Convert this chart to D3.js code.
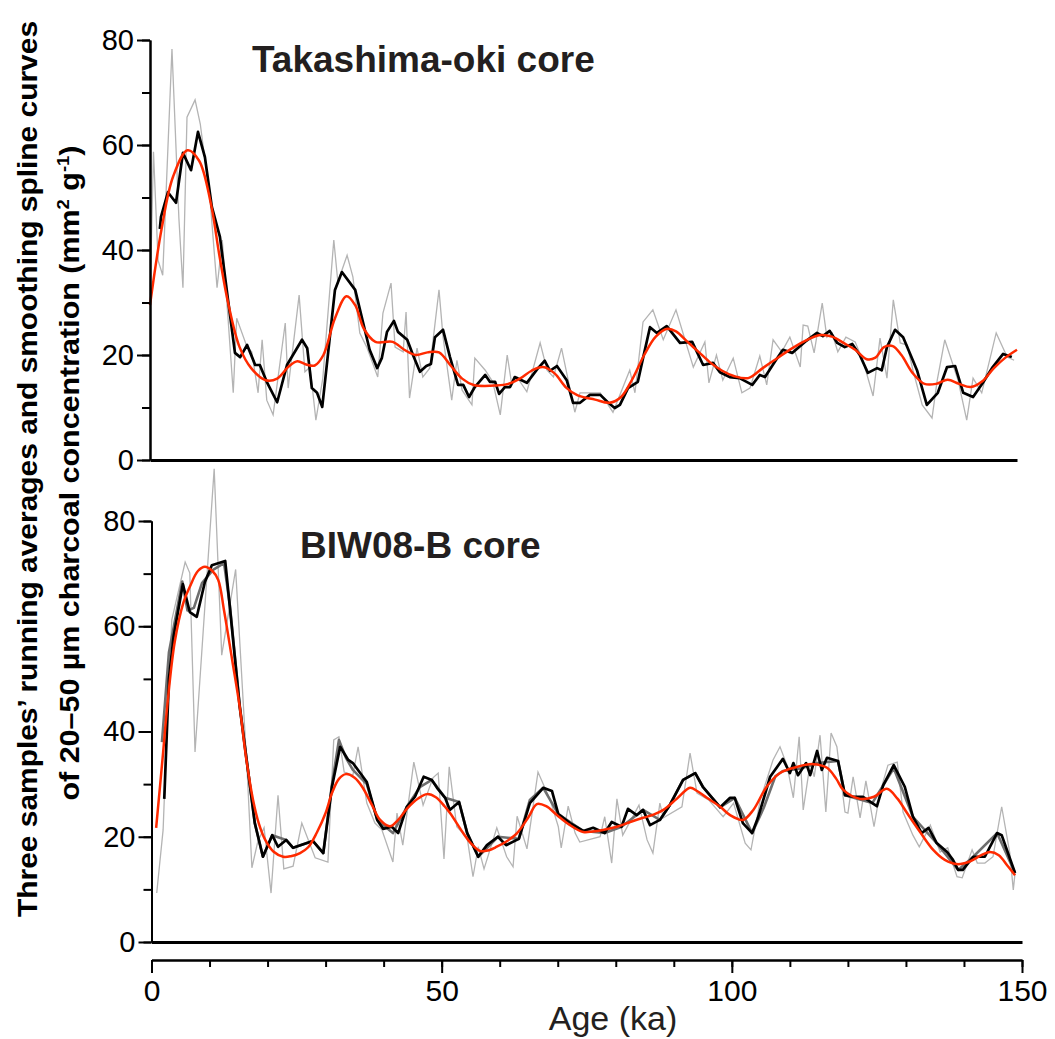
<!DOCTYPE html>
<html>
<head>
<meta charset="utf-8">
<script src="https://cdn.jsdelivr.net/npm/d3@7"></script>
<style>
  body { margin: 0; background: #fff; }
  text { font-family: "Liberation Sans", Arial, sans-serif; }
</style>
</head>
<body>
<div id="app"></div>
<script>
// ---- data: [age (ka), value (mm2 g-1)] ----
const takaRaw = [[0,30],[0.6,58.7],[1.4,38],[2.2,35.2],[3.8,78.3],[5,46],[5.7,32.8],[6.4,65.3],[7.8,68.6],[8.7,64],
  [10.4,49.5],[11.6,32.8],[12.5,41.9],[13.5,27],[14.4,12.8],[15,27],[16.8,21.5],[17.6,20.6],[18.7,12.8],[19.4,22.9],
  [20.2,11.4],[21.3,8.6],[23.4,26.1],[23.9,13.7],[25.8,31.4],[26.8,16.8],[27.7,17.7],[28.7,7.6],[29.9,15.6],[31.8,41.9],
  [32.5,33.9],[34.1,39],[35.1,34.9],[36.3,24.2],[37.5,21.5],[39.4,15.8],[40.3,28],[41.7,33.7],[42.4,21.5],[43.8,20.6],
  [44.3,28.2],[44.9,11.8],[46.2,21.3],[47.2,15.8],[48.4,17.5],[50,32.4],[50.7,23.4],[52.2,11.4],[53.1,19],[54,13.3],
  [55.7,10.5],[56.2,19.4],[58,17.1],[59.3,14.9],[60.6,8.6],[61.8,20],[62.6,14.3],[63.5,15.8],[65.2,13],[67.5,22.3],
  [68.7,17.1],[69.8,15.8],[71.2,21.3],[73.5,9.1],[74.4,12.8],[77.9,12.8],[80.1,9.1],[83,17.1],[83.9,12.8],[85.3,26.3],
  [87,28.6],[88.8,22.9],[91,28.6],[94,17.7],[96,22.5],[96.7,14.7],[98,20],[99.1,15.2],[100.9,19.4],[102.4,12.8],
  [103.8,13.7],[105.5,19.8],[106.7,14.3],[107.8,22.9],[109.3,20.6],[110.7,23.4],[112.5,17.7],[113,25.7],[113.8,25.5],[114.9,20.4],
  [116.3,29.9],[117.1,23.4],[118,24.2],[119,20.6],[120.4,23.4],[122,22.5],[123.4,18.7],[125.1,12.2],[126.3,23.2],[127.5,15.6],
  [128.6,30.5],[129.8,22.3],[131,21.9],[132,17.1],[133.6,10.5],[135.3,8],[136.2,15.2],[137.5,22.9],[139.8,15.2],[141.3,7.6],
  [142.4,15.6],[143.9,12.8],[146.4,24.2],[148.3,19.6],[149.5,19]];

const takaAvg = [[1.7,44],[1.9,46.3],[3.1,51],[4.5,49],[5.7,58.5],[7.1,55.2],[8.3,62.5],[9.5,57.7],[10.7,48.2],[12.1,42.5],
  [13.5,30.5],[14.7,20.4],[15.6,19.6],[16.8,21.9],[18.2,18.1],[19,18.1],[20.2,14.9],[22,11],[23.7,18.1],[26.3,22.9],
  [27.2,21.3],[28,13.7],[28.9,12.8],[29.8,10.1],[32,32.4],[33.2,35.8],[35.5,32.4],[38,21],[39.3,17.5],[40.1,19.4],
  [41,24.4],[42.2,26.5],[42.9,24.4],[44.5,22.9],[45.5,20],[46.7,16.8],[47.8,17.9],[48.6,18.3],[49.3,23.4],[50.7,24.8],
  [51.9,19.6],[53.3,14.3],[54.2,14.3],[55.2,12],[56.2,13.9],[58,16.2],[58.8,14.9],[59.7,14.9],[60.4,12.6],[61.4,13.9],
  [62.3,13.9],[63.1,15.8],[65.2,14.7],[67,17.3],[68.3,18.9],[69.2,17],[70.4,17.9],[72.1,15.2],[73.2,10.9],[74.4,10.9],
  [76.1,12.4],[77.9,12.4],[79.2,11],[80.4,9.9],[81.3,10.5],[82.7,13.7],[84.4,14.9],[85.3,19.4],[86.5,25.3],[87.7,24.2],
  [89.4,25.5],[91.7,22.3],[93.8,22.5],[95.7,18.1],[97.4,18.5],[98.6,16.7],[100.3,15.8],[102,15.6],[104.2,14.3],[105.5,16.2],
  [106.4,15.8],[108.1,18.7],[109.5,21],[111.1,20.4],[113.3,22.5],[115.4,24.2],[116.4,23.6],[117.6,24.6],[118.9,22.3],[120.2,21.5],
  [121.5,22.1],[122.8,20],[124.2,16.6],[125.8,17.5],[126.6,17.1],[127.5,21.5],[128.9,24.8],[130.3,23.4],[132.7,17.1],[134.4,10.5],
  [136.3,12.8],[137.9,17.7],[139.3,17.9],[140.7,12.8],[142.4,12],[144.1,14.7],[145.8,17.7],[147.6,20.2],[149.1,19.6]];

const takaSpline = [[0,29.5],[2,44],[4,54],[6.5,59],[8.5,57],[10.5,49],[12,39],[13.5,30],[15.5,21.5],[17.5,17.5],
  [20,15.2],[22,15.5],[24,17.8],[25.5,18.8],[27,18.2],[28.5,18],[30,20],[32,27],[34,31.2],[35.5,29.5],
  [37,25],[39,22.5],[42,22.5],[44,21],[46,20],[48,20.5],[50,20.5],[52,18],[54,15.5],[56,14.3],
  [60,14.2],[62,14.5],[64,15.5],[66,17],[68,17.7],[70,16.5],[72,13.8],[74,12.3],[77,11.5],[79.5,10.9],
  [81.5,12],[83.5,15.5],[85.5,20],[87.5,23.5],[89.5,25],[91,24.5],[93,22.5],[95,20.5],[97,18.5],[99,17],
  [101,16],[103.5,15.6],[106,17.5],[108,19],[110,20.5],[113,22.5],[116,23.8],[118,23.5],[120,22.3],[122,21],
  [124,19.2],[125.5,19.5],[127,21.5],[128.5,21.7],[130,20],[132,16.5],[134,14.5],[136,14.5],[138,15.3],[140,14.5],
  [142,13.9],[144,15],[146,17.5],[148,19.5],[150,21]];

const biwRaw = [[0.9,9.3],[2,21.3],[3,50],[3.5,61.2],[4.5,66],[5.8,72.2],[6.6,70.1],[7.5,36.1],[10.8,89.9],[12.1,54.5],
  [14.5,70.8],[16.5,32.1],[17.3,14.1],[18.3,19],[19.4,21.7],[20.6,9.3],[21.8,27.9],[22.8,13.9],[24.4,14.4],[25.9,22.6],
  [28.2,16],[30.4,15.2],[31.4,38.4],[32.3,39],[33.2,32.3],[34.7,31.7],[35.6,37.1],[37.1,26.4],[38.5,22.6],[39.7,21.3],
  [41.6,15.2],[42.3,24.5],[43.3,18.4],[45.2,34.2],[46.8,26],[48.5,31.2],[49.4,32.1],[50.4,15.8],[51.3,33.3],[52.6,21.9],
  [54.4,19.8],[55.4,12.4],[56.3,18.1],[57.3,13.9],[59.5,21.7],[61.2,16.2],[62.3,14.3],[63,23.9],[64.7,17.7],[66.6,32.3],
  [68.7,27],[70.1,21.9],[70.6,17.9],[71.8,25.8],[73,20.7],[73.8,19],[77.3,20],[78.1,23.8],[79.3,15],[80.2,27.2],
  [81.2,20.3],[84,26],[85.4,19.4],[86.4,16.9],[87.6,26.4],[88.2,23.6],[91.4,25.7],[92.8,35.9],[94,28.3],[96,27],
  [97.2,25.5],[98.5,23.8],[100.3,26.4],[102.3,18.8],[103.3,17.5],[104.9,27],[107.1,34.6],[108.3,37.1],[109.5,33.6],[110.6,27.4],
  [111.6,39],[112.3,25.1],[113.5,34],[114.2,31.4],[115.2,39.3],[116.2,24.7],[117.1,39.7],[118.1,37.1],[119.5,24.7],[120,24.5],
  [120.9,31.4],[122.1,23.6],[123.1,30.6],[124.5,21.9],[125.5,28.3],[126.9,33.6],[128.5,34.2],[129.5,24.7],[131.2,20.3],[132.3,18.1],
  [134.2,22.2],[135.9,17.1],[137.2,17.9],[138.8,12.4],[139.7,12.2],[141.4,17.5],[142.3,15],[143.6,15],[145,16.2],[146.5,25.7],
  [147.9,16.9],[148.5,9.9],[148.8,13.1]];

const biwAvg2 = [[1.8,38],[3,55],[4.2,62],[5.3,68.5],[6.2,63],[7.3,63.5],[8.7,68.2],[10.6,70.7],[12.5,72],[13.5,64],
  [14.4,54],[15.2,45],[17.8,22.6],[19.2,16.2],[20.8,20.3],[23.2,19.4],[24.4,17.9],[27.8,19.2],[29.6,16.9],[31.1,30],
  [32.3,38.4],[33.5,35],[34.7,32.7],[37.1,30],[38.9,23.2],[41.6,20.7],[44,25.7],[46.3,29.5],[48.3,30.8],[50.6,27.4],
  [53,26.6],[54.4,20.7],[56.3,16.2],[59.7,20],[63.3,19.6],[65.2,27],[67.5,29.3],[70.1,24.3],[74.4,21.1],[78.1,20.7],
  [81,21.9],[84.7,25.1],[87.6,23.2],[89.3,26],[91.6,30.8],[93.7,32.1],[95,29.5],[98,25.6],[100.5,27.4],[103.5,20.7],
  [105.5,25.5],[107.5,31.5],[108.8,32.5],[112,33],[114.7,34],[118.3,34.4],[119.5,27.9],[124.2,26.4],[126.1,29.8],[127.9,33],
  [131.2,23.8],[135.3,18.8],[139,13.7],[141.6,16.2],[145.7,20.7],[148.8,13.1]];

const biwAvg = [[2.2,27.2],[3,50],[3.8,58],[4.6,63],[5.4,68],[6.6,62.7],[7.8,61.8],[9.2,68.4],[10.4,71.6],[12.7,72.4],
  [13.5,63.7],[14.4,53.6],[15.2,44.7],[17.8,22.6],[19.2,16.2],[20.8,20.3],[21.8,18.1],[23.2,19.4],[24.4,17.9],[27.8,19.2],
  [29.6,16.9],[31.1,29.5],[32.5,37.1],[33.9,34.6],[34.7,34],[37.1,30.4],[38.9,23.2],[39.9,21.5],[41.4,21.9],[42.5,20.7],
  [44,25.7],[45.4,27.6],[46.9,31.4],[48.3,30.8],[49.2,29.3],[50.6,27.4],[51.4,25.1],[53,26.6],[54.4,20.7],[56.3,16.2],
  [57.8,18.4],[59.7,20],[61.1,18.4],[63.3,19.6],[65.2,26.4],[67.5,29.3],[69,28.7],[70.1,24.3],[72.1,22.6],[74.4,21.1],
  [76.1,21.7],[78.1,20.7],[79.3,22.8],[81,21.9],[82.1,25.3],[83.6,24.1],[84.7,25.1],[85.9,22.2],[87.6,23.2],[89.3,26],
  [91.6,30.8],[93.7,32.1],[95,29.5],[98,25.6],[99.7,27.4],[100.5,27.4],[101.9,22.6],[103.5,20.7],[104.5,23.6],[106.6,31.4],
  [108.8,34.8],[110,32.1],[110.6,34],[111.4,31.7],[112.8,34],[113.5,31.7],[114.7,36.3],[115.5,32.7],[116.4,35],[118.3,34.4],
  [119.5,27.9],[120.9,27.6],[122.6,27.6],[124.2,26.4],[125,25.8],[126.1,29.8],[127.9,33.6],[129.8,29.5],[131.2,23.8],[132.7,20.7],
  [133.9,21.7],[135.3,18.8],[137.1,17.1],[138.1,15.6],[139,13.7],[139.8,13.7],[141.6,16.2],[143.6,16.2],[145.7,20.7],[146.5,20.3],
  [148.8,13.1]];

const biwSpline = [[0.8,21.7],[2,36],[2.7,44.7],[4,57],[5.5,64.5],[6.6,67.5],[8,70.5],[9.2,71.3],[10.5,70.5],[11.5,68.8],
  [12.5,63],[13.9,53.6],[15.2,44.7],[16.3,35],[17.5,27],[18.5,22.5],[19.6,19.4],[21,17.2],[22.7,16.2],[24,16.3],
  [25.6,16.9],[27,18],[28.5,20.8],[30,24.5],[31.1,28.3],[32.3,31],[33.5,31.9],[35,31.2],[36.3,29.5],[38,26],
  [39.4,23.2],[41.1,22],[42.5,23.2],[44,25.3],[46,27.3],[47.5,28.1],[49,27.5],[50.5,25.8],[51.5,24.4],[53.7,20.7],
  [55,18.8],[56.6,17.3],[58,17.4],[59.5,18.1],[61,19],[63,20.7],[65,23.8],[66.4,26.2],[68,25.8],[69.9,24.1],
  [72,22.3],[74.4,20.9],[76,21],[77.8,21.3],[80.2,21.9],[82.5,22.8],[84.7,23.6],[86.5,24.2],[88.2,25.1],[90.5,27.2],
  [92.8,29.3],[94,28.7],[95.7,27.4],[98,25.7],[99.7,24.1],[101.9,23.2],[103.7,25.1],[106,29.5],[108.3,32.1],[111,33.2],
  [114,33.8],[116.4,33.1],[118,31],[119.2,28.9],[122.1,27.2],[124.5,27.6],[126.7,29.1],[128.5,27.3],[130.2,24.5],[132.5,20.8],
  [134.7,17.5],[136.7,15.6],[138.8,14.8],[141,15.3],[143,16.5],[144.5,17.1],[146,16.5],[147.5,14.5],[148.8,12.7]];

const yTicks = [0, 20, 40, 60, 80];
const yMinor = d3.range(0, 81, 10);
const xTicks = [0, 50, 100, 150];
const xMinor = d3.range(0, 151, 10);

// ---- layout ----
const width = 1055, height = 1039;
const svg = d3.select('#app').append('svg')
  .attr('width', width)
  .attr('height', height);

const panels = [
  { title: 'Takashima-oki core', raw: takaRaw, avg2: null, avg: takaAvg, spline: takaSpline,
    left: 150, right: 1017, top: 40, bottom: 460, tx: 252, ty: 72 },
  { title: 'BIW08-B core', raw: biwRaw, avg2: biwAvg2, avg: biwAvg, spline: biwSpline,
    left: 151.5, right: 1022, top: 521, bottom: 942, tx: 300, ty: 558 }
];

panels.forEach(p => {
  const x = d3.scaleLinear().domain([0, 150]).range([p.left, p.right]);
  const y = d3.scaleLinear().domain([0, 80]).range([p.bottom, p.top]);
  const g = svg.append('g');

  // lines
  const line = d3.line().x(d => x(d[0])).y(d => y(d[1]));
  g.append('path').datum(p.raw).attr('d', line)
    .attr('fill', 'none').attr('stroke', '#b4b4b4').attr('stroke-width', 1.3);
  if (p.avg2) {
    g.append('path').datum(p.avg2).attr('d', line)
      .attr('fill', 'none').attr('stroke', '#6e6e6e').attr('stroke-width', 2.6).attr('stroke-linejoin', 'round');
  }
  g.append('path').datum(p.avg).attr('d', line)
    .attr('fill', 'none').attr('stroke', '#000').attr('stroke-width', 2.7).attr('stroke-linejoin', 'round');
  g.append('path').datum(p.spline)
    .attr('d', d3.line().x(d => x(d[0])).y(d => y(d[1])).curve(d3.curveCatmullRom.alpha(0.5)))
    .attr('fill', 'none').attr('stroke', '#ff2a00').attr('stroke-width', 2.5);

  // y axis: minor then major
  g.append('g').attr('transform', `translate(${p.left},0)`)
    .call(d3.axisLeft(y).tickValues(yMinor).tickSize(8).tickSizeOuter(0).tickFormat(''))
    .call(a => a.selectAll('line,path').attr('stroke', '#000').attr('stroke-width', 2));
  g.append('g').attr('transform', `translate(${p.left},0)`)
    .call(d3.axisLeft(y).tickValues(yTicks).tickSize(13).tickSizeOuter(0).tickPadding(3))
    .call(a => a.selectAll('line,path').attr('stroke', '#000').attr('stroke-width', 2))
    .call(a => a.selectAll('text').attr('font-family', '"DejaVu Sans", sans-serif')
      .attr('font-size', 29).attr('fill', '#000'));

  // baseline
  g.append('g').attr('transform', `translate(0,${y(0)})`)
    .call(d3.axisBottom(x).tickValues([]).tickSizeOuter(0))
    .call(a => a.select('path').attr('stroke', '#000').attr('stroke-width', 3.2));

  // title
  g.append('text').attr('x', p.tx).attr('y', p.ty)
    .attr('font-size', 37).attr('font-weight', 'bold').attr('fill', '#231f20')
    .text(p.title);
});

// shared age axis
const xb = d3.scaleLinear().domain([0, 150]).range([151.5, 1022]);
svg.append('g').attr('transform', 'translate(0,960)')
  .call(d3.axisBottom(xb).tickValues(xMinor).tickSize(7).tickSizeOuter(0).tickFormat(''))
  .call(a => a.selectAll('line,path').attr('stroke', '#000').attr('stroke-width', 2));
svg.append('g').attr('transform', 'translate(0,960)')
  .call(d3.axisBottom(xb).tickValues(xTicks).tickSize(13).tickSizeOuter(0).tickPadding(7))
  .call(a => a.selectAll('line,path').attr('stroke', '#000').attr('stroke-width', 2))
  .call(a => a.selectAll('text').attr('font-family', '"Liberation Sans", sans-serif')
    .attr('font-size', 30).attr('fill', '#000'));

svg.append('text').attr('x', 613).attr('y', 1030)
  .attr('text-anchor', 'middle').attr('font-size', 34).attr('fill', '#231f20')
  .text('Age (ka)');

// y title (two lines)
const yt1 = svg.append('text')
  .attr('transform', 'translate(37,469) rotate(-90)')
  .attr('text-anchor', 'middle')
  .attr('font-family', '"Liberation Sans Narrow", "Liberation Sans", sans-serif')
  .attr('font-size', 28).attr('font-weight', 'bold').attr('fill', '#000')
  .attr('textLength', 896).attr('lengthAdjust', 'spacingAndGlyphs')
  .text('Three samples\u2019 running averages and smoothing spline curves');

const yt2 = svg.append('text')
  .attr('transform', 'translate(79,473) rotate(-90)')
  .attr('text-anchor', 'middle')
  .attr('font-family', '"Liberation Sans Narrow", "Liberation Sans", sans-serif')
  .attr('font-size', 28).attr('font-weight', 'bold').attr('fill', '#000')
  .attr('textLength', 655).attr('lengthAdjust', 'spacingAndGlyphs');
yt2.append('tspan').text('of 20\u201350 \u00b5m charcoal concentration (mm');
yt2.append('tspan').attr('dy', -10).attr('font-size', 17).text('2');
yt2.append('tspan').attr('dy', 10).text(' g');
yt2.append('tspan').attr('dy', -10).attr('font-size', 17).text('-1');
yt2.append('tspan').attr('dy', 10).text(')');
</script>
</body>
</html>
